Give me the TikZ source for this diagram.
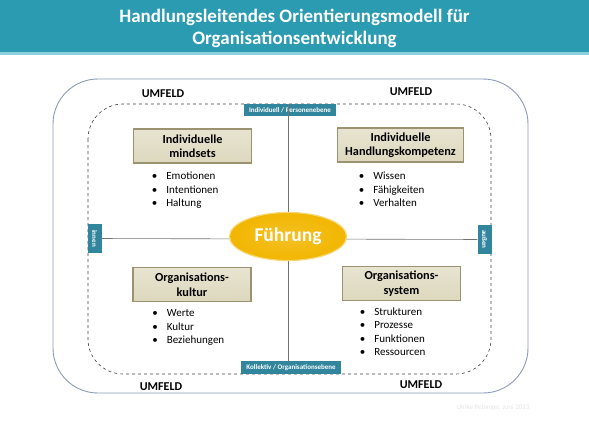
\documentclass[tikz,border=0pt]{standalone}
\usepackage{fontspec}
\setmainfont{Carlito}
\usetikzlibrary{shapes.geometric, positioning}
\definecolor{bannerteal}{HTML}{2A9BB1}
\definecolor{bannerlight}{HTML}{8CCFDD}
\definecolor{tagteal}{HTML}{31859C}
\definecolor{frameblue}{HTML}{8A9BB5}
\definecolor{boxfill}{HTML}{DDD8BD}
\definecolor{boxedge}{HTML}{9A9270}
\definecolor{leadgold}{HTML}{F2B600}
\tikzset{
  catbox/.style   = {rectangle, draw=boxedge, line width=1.6pt,
                     top color=boxfill!70!white, bottom color=boxfill,
                     minimum width=118pt, minimum height=34pt, align=center,
                     font=\fontsize{12.3}{14.5}\selectfont\bfseries},
  itemlist/.style = {align=left, inner sep=0pt,
                     font=\fontsize{11}{13.6}\selectfont},
  tag/.style      = {rectangle, fill=tagteal, text=white, inner xsep=5pt, inner ysep=3.2pt,
                     font=\fontsize{7}{8}\selectfont\bfseries},
  sidetag/.style  = {tag, rotate=-90, minimum width=29pt, minimum height=14pt, inner sep=0pt},
  envlabel/.style = {font=\fontsize{12}{14}\selectfont\bfseries},
  axis/.style     = {draw=black!55, line width=0.6pt},
  lead/.style     = {ellipse, inner color=leadgold!85!white, outer color=leadgold,
                     draw=leadgold!55!white, line width=1.2pt,
                     minimum width=117pt, minimum height=48pt, text=white,
                     font=\fontsize{19.5}{24}\selectfont\bfseries},
}
\newcommand{\itm}{\textbullet\hspace{9pt}}

\begin{document}
\begin{tikzpicture}[x=1pt, y=-1pt]
  \useasboundingbox (0,0) rectangle (589,442);
  % banner
  \fill[bannerteal] (0,0) rectangle (589,52);
  \fill[bannerlight] (0,52) rectangle (589,55);
  \node[text=white, align=center, font=\fontsize{19}{22}\selectfont\bfseries]
    (title) at (294.5,28) {Handlungsleitendes Orientierungsmodell für\\Organisationsentwicklung};

  % frames
  \draw[frameblue, line width=0.9pt, rounded corners=45pt] (53,79) rectangle (528,393);
  \draw[black!75, dashed, line width=0.6pt, rounded corners=35pt] (88,104) rectangle (491,374);

  % axes
  \node[tag, anchor=north] (indiv) at (290,104) {Individuell / Personenebene};
  \node[tag, anchor=south] (koll) at (291,374) {Kollektiv / Organisationsebene};
  \node[sidetag] (innen) at (94.5,238.5) {innen};
  \node[sidetag] (aussen) at (484.5,239.5) {außen};
  \draw[axis] (288,104) -- (288,362);
  \draw[axis] (innen) -- (aussen);
  \node[lead] (fuehrung) at (288,236.5) {Führung};

  % quadrants
  \node[catbox] (mindsets) at (192.5,146) {Individuelle\\mindsets};
  \node[catbox, minimum width=126pt] (kompetenz) at (400.5,145) {Individuelle\\Handlungskompetenz};
  \node[catbox] (kultur) at (192,284.5) {Organisations-\\kultur};
  \node[catbox] (system) at (401.5,283.5) {Organisations-\\system};

  \node[itemlist, below right=8pt and 19pt of mindsets.south west] (mindlist)
    {\itm Emotionen\\\itm Intentionen\\\itm Haltung};
  \node[itemlist, below right=9pt and 22pt of kompetenz.south west] (komplist)
    {\itm Wissen\\\itm Fähigkeiten\\\itm Verhalten};
  \node[itemlist, below right=7pt and 20pt of kultur.south west] (kultlist)
    {\itm Werte\\\itm Kultur\\\itm Beziehungen};
  \node[itemlist, below right=6pt and 18pt of system.south west] (syslist)
    {\itm Strukturen\\\itm Prozesse\\\itm Funktionen\\\itm Ressourcen};

  % environment
  \node[envlabel] (umfeldtl) at (163,94) {UMFELD};
  \node[envlabel] (umfeldtr) at (411,92) {UMFELD};
  \node[envlabel] (umfeldbl) at (161,387) {UMFELD};
  \node[envlabel] (umfeldbr) at (421,385) {UMFELD};

  \node[text=black!10, font=\fontsize{7}{8}\selectfont] (credit) at (493,408)
    {Ulrike Pebinger, Juni 2013};
\end{tikzpicture}
\end{document}
